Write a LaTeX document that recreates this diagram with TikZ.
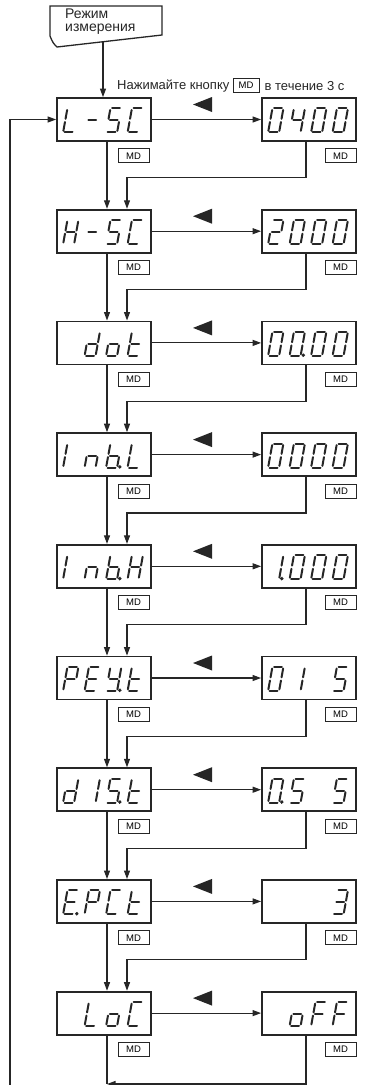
\documentclass[tikz,border=0pt]{standalone}
\usepackage{fontspec}
\setmainfont{Liberation Sans}
\usetikzlibrary{arrows.meta}
\definecolor{ink}{HTML}{262626}
\tikzset{
  segline/.style={line width=2pt, line cap=round, draw=ink},
  seg a/.style={insert path={(1.6,24)--(9.4,24)}},
  seg b/.style={insert path={(11,22.4)--(11,13.6)}},
  seg c/.style={insert path={(11,10.4)--(11,1.6)}},
  seg d/.style={insert path={(1.6,0)--(9.4,0)}},
  seg e/.style={insert path={(0,1.6)--(0,10.4)}},
  seg f/.style={insert path={(0,13.6)--(0,22.4)}},
  seg g/.style={insert path={(1.6,12)--(9.4,12)}},
  seg p/.style={insert path={(13.6,0.6) circle (0.5)}},
  seg z/.style={},
  dispbox/.style={draw=ink, line width=1.8pt, minimum width=94pt, minimum height=43pt, inner sep=0pt},
  mdbox/.style={draw=ink, line width=0.9pt, minimum width=31pt, minimum height=14pt, inner sep=0pt, font=\fontsize{9.5}{10}\selectfont},
  conn/.style={draw=ink, line width=1.1pt},
  arr/.style={conn, -{Triangle[length=8.5pt,width=6pt]}},
  lbl/.style={inner sep=0pt, font=\fontsize{13}{13}\selectfont, text=ink},
  doctext/.style={inner sep=0pt, align=left, font=\fontsize{14}{13.5}\selectfont, text=ink},
}
\def\xN{z}
\def\xZero{a,b,c,d,e,f}
\def\xZeroP{a,b,c,d,e,f,p}
\def\xOne{b,c}
\def\xOneP{b,c,p}
\def\xTwo{a,b,g,e,d}
\def\xThree{a,b,g,c,d}
\def\xFour{f,g,b,c}
\def\xFive{a,f,g,c,d}
\def\xL{f,e,d}
\def\xDash{g}
\def\xS{a,f,g,c,d}
\def\xSP{a,f,g,c,d,p}
\def\xC{a,f,e,d}
\def\xH{f,e,b,c,g}
\def\xd{b,c,d,e,g}
\def\xo{c,d,e,g}
\def\xt{f,e,d,g}
\def\xI{e,f}
\def\xn{e,g,c}
\def\xbP{f,e,d,c,g,p}
\def\xP{a,b,f,g,e}
\def\xE{a,f,g,e,d}
\def\xEP{a,f,g,e,d,p}
\def\xYP{f,b,g,c,d,p}
\def\xF{a,f,g,e}
\newcommand\dcell[3]{%
  \begin{scope}[shift={(#1.south west)}, shift={(7+21.5*#2,-9.5)}, xslant=0.18, yscale=-1]
    \foreach \s in #3 {\edef\tmp{\noexpand\draw[segline, seg \s];}\tmp}
  \end{scope}}
\newcommand\disp[6]{%
  \node[dispbox] (#1) at #2 {};
  \dcell{#1}{0}{#3}\dcell{#1}{1}{#4}\dcell{#1}{2}{#5}\dcell{#1}{3}{#6}}
\newcommand\rowtri[1]{%
  \fill[ink] (193,#1+6.5) -- (212,#1-1) -- (212,#1+14) -- cycle;}
\begin{document}
\begin{tikzpicture}[x=1pt, y=-1pt]
\useasboundingbox (0,0) rectangle (368,1085);
% start block
\draw[ink, line width=1.3pt] (50,36) -- (50,6) -- (162,6) -- (162,35) -- (57,47) .. controls (53,43) .. (50,36);
\node[doctext, anchor=north west] (doc) at (65,8.5) {Режим\\измерения};
\coordinate (docb) at (103,41.5);
% label
\node[lbl, anchor=base west] (l1) at (117,89) {Нажимайте кнопку};
\node[mdbox, anchor=west, minimum width=26pt] (l2) at ([xshift=3pt]l1.east) {MD\hspace{6pt}};
\node[lbl, anchor=west] (l3) at ([xshift=5pt]l2.east) {в течение 3 с};
% displays
\disp{L0}{(104,119.5)}{\xL}{\xDash}{\xS}{\xC}
\disp{R0}{(309,119.5)}{\xZero}{\xFour}{\xZero}{\xZero}
\disp{L1}{(104,231.2)}{\xH}{\xDash}{\xS}{\xC}
\disp{R1}{(309,231.2)}{\xTwo}{\xZero}{\xZero}{\xZero}
\disp{L2}{(104,342.9)}{\xN}{\xd}{\xo}{\xt}
\disp{R2}{(309,342.9)}{\xZero}{\xZeroP}{\xZero}{\xZero}
\disp{L3}{(104,454.6)}{\xI}{\xn}{\xbP}{\xL}
\disp{R3}{(309,454.6)}{\xZero}{\xZero}{\xZero}{\xZero}
\disp{L4}{(104,566.3)}{\xI}{\xn}{\xbP}{\xH}
\disp{R4}{(309,566.3)}{\xOneP}{\xZero}{\xZero}{\xZero}
\disp{L5}{(104,678)}{\xP}{\xE}{\xYP}{\xt}
\disp{R5}{(309,678)}{\xZero}{\xOne}{\xN}{\xS}
\disp{L6}{(104,789.7)}{\xd}{\xOne}{\xSP}{\xt}
\disp{R6}{(309,789.7)}{\xZeroP}{\xFive}{\xN}{\xS}
\disp{L7}{(104,901.4)}{\xEP}{\xP}{\xC}{\xt}
\disp{R7}{(309,901.4)}{\xN}{\xN}{\xN}{\xThree}
\disp{L8}{(104,1013.1)}{\xN}{\xL}{\xo}{\xC}
\disp{R8}{(309,1013.1)}{\xN}{\xo}{\xF}{\xF}
% triangles, MD keys, horizontal arrows
\foreach \i/\t in {0/98,1/209.7,2/321.4,3/433.1,4/544.8,5/656.5,6/768.2,7/879.9,8/991.6}{
  \rowtri{\t}
  \draw[arr] (L\i.east) -- (R\i.west);
  \node[mdbox] (mdl\i) at ([shift={(29.5,14)}]L\i.south) {MD};
  \node[mdbox] (mdr\i) at ([shift={(31.5,14)}]R\i.south) {MD};
}
% vertical flow
\foreach \i [evaluate=\i as \j using int(\i+1)] in {0,...,7}{
  \draw[arr] ([xshift=3pt]L\i.south) -- ([xshift=3pt]L\j.north);
  \draw[arr] ([xshift=-3pt]R\i.south) -- ++(0,36) -| ([xshift=23pt]L\j.north);
}
\draw[arr] (docb) -- ([xshift=-1pt]L0.north);
% bottom and return
\draw[conn] ([xshift=3pt]L8.south) -- ++(0,48.5) coordinate (m);
\draw[arr] ([xshift=-3pt]R8.south) |- (m);
\coordinate (ret) at (10,1086);
\draw[arr] (ret) |- (L0.west);
\end{tikzpicture}
\end{document}
